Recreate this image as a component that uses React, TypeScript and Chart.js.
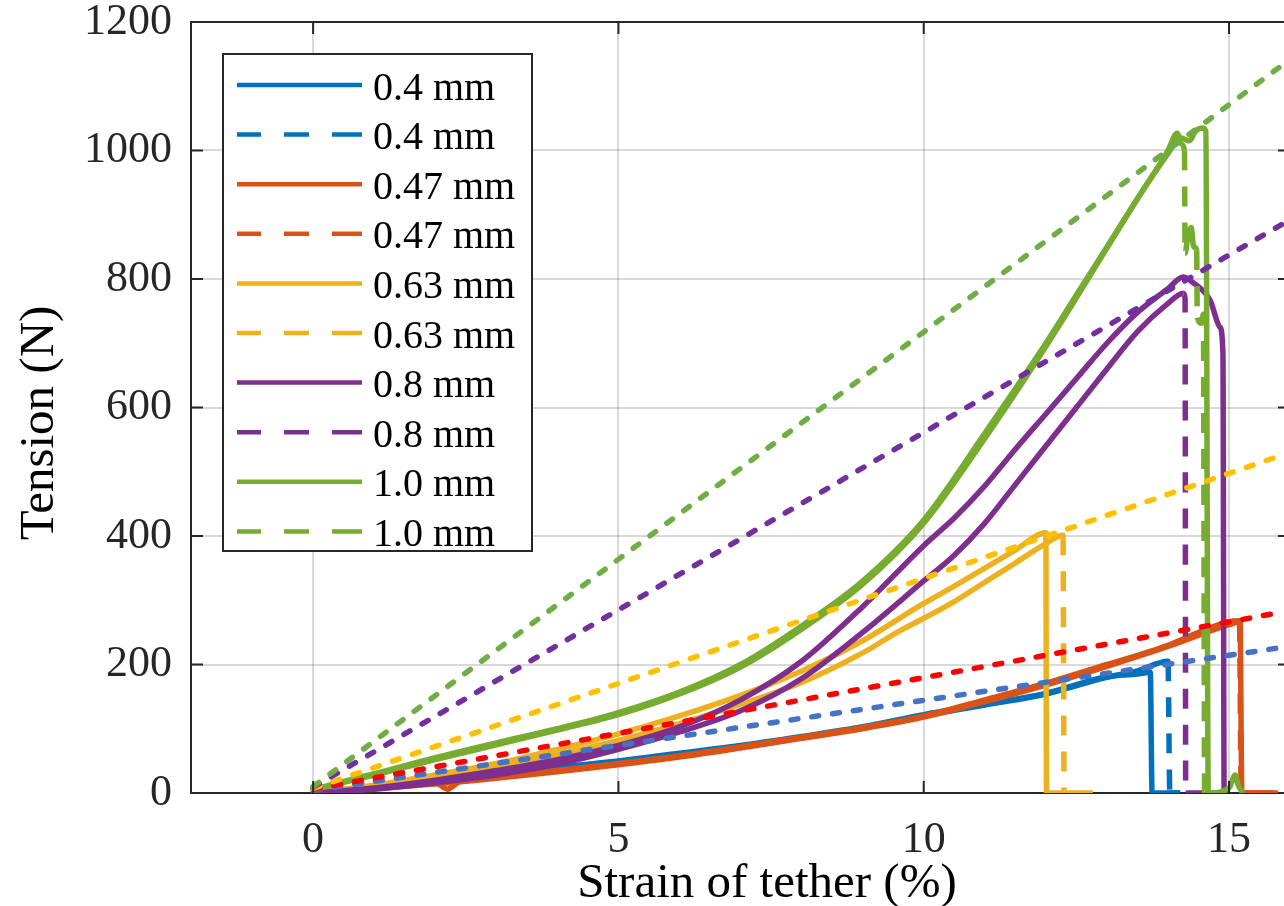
import React, { useEffect, useRef } from "react";
import { Chart, registerables } from "chart.js";

Chart.register(...registerables);

type Pt = [number, number];

// ---------- tick values ----------
const xTickValues = [0, 5, 10, 15];
const yTickValues = [0, 200, 400, 600, 800, 1000, 1200];

// ---------- measured series (strain %, tension N) ----------
const t04Solid: Pt[] = [
  [0, 0], [1, 10], [2, 20], [3, 30], [4, 40], [5, 50], [6, 62], [7, 74], [8, 88], [9, 103],
  [10, 122], [11, 138], [12, 155], [13, 181], [13.5, 185], [13.71, 188], [13.74, 0], [14.2, 0],
];
const t04Dashed: Pt[] = [
  [0, 0], [1, 9], [2, 19], [3, 29], [4, 39], [5, 49], [6, 60], [7, 72], [8, 86], [9, 101],
  [10, 120], [11, 137], [12, 154], [13, 180], [13.5, 190], [14.0, 205], [14.03, 0], [14.2, 0],
];
const t047Solid: Pt[] = [
  [0, 0], [0.5, 4], [1, 8], [1.5, 12], [2, 16], [2.2, 6], [2.4, 18], [3, 25], [4, 35], [5, 46],
  [6, 58], [7, 72], [8, 87], [9, 102], [10, 120], [11, 145], [12, 171], [13, 200], [14, 230],
  [14.55, 252], [14.97, 266], [15.18, 268], [15.21, 0], [15.72, 0],
];
const t047Dashed: Pt[] = [
  [0, 0], [1, 7], [2, 14], [3, 23], [4, 33], [5, 44], [6, 56], [7, 70], [8, 85], [9, 100],
  [10, 118], [11, 142], [12, 168], [13, 197], [14, 228], [15, 262], [15.17, 266], [15.2, 0], [15.8, 0],
];
const t063Solid: Pt[] = [
  [0, 0], [1, 12], [2, 28], [3, 46], [4, 68], [5, 92], [6, 120], [7, 152], [8, 190], [9, 237],
  [10, 295], [10.5, 322], [11, 350], [11.5, 378], [12.0, 405], [12.01, 0], [12.3, 0],
];
const t063Dashed: Pt[] = [
  [0, 0], [1, 10], [2, 24], [3, 40], [4, 60], [5, 82], [6, 108], [7, 138], [8, 172], [9, 218],
  [9.6, 252], [10, 272], [10.5, 298], [11, 328], [11.5, 358], [12, 388], [12.28, 401], [12.3, 0], [12.77, 0],
];
const t08Solid: Pt[] = [
  [0, 0], [1, 8], [2, 20], [3, 35], [4, 52], [5, 74], [6, 103], [7, 145], [8, 205], [9, 290],
  [10, 385], [10.5, 428], [11, 478], [11.5, 535], [12, 590], [12.5, 645], [13, 700], [13.5, 748],
  [14, 785], [14.25, 803], [14.4, 795], [14.69, 767], [14.85, 725], [14.9, 685], [14.92, 0], [15.0, 0],
];
const t08Dashed: Pt[] = [
  [0, 0], [1, 6], [2, 16], [3, 28], [4, 45], [5, 68], [6, 95], [7, 128], [8, 178], [9, 250],
  [10, 330], [10.5, 370], [11, 420], [11.5, 480], [12, 540], [12.5, 600], [13, 660], [13.5, 718],
  [14, 762], [14.25, 778], [14.28, 770], [14.29, 0], [14.57, 0],
];
const t10Solid: Pt[] = [
  [0, 5], [0.5, 18], [1, 30], [2, 55], [3, 78], [4, 100], [5, 125], [6, 157], [7, 200], [8, 260],
  [9, 330], [10, 425], [11, 560], [12, 700], [12.5, 775], [13, 850], [13.5, 925], [14, 995],
  [14.2, 1020], [14.35, 1015], [14.45, 1030], [14.57, 1035], [14.62, 1030], [14.66, 0],
  [15.0, 8], [15.1, 28], [15.15, 12], [15.23, 0],
];
const t10Dashed: Pt[] = [
  [0, 5], [1, 28], [2, 52], [3, 75], [4, 98], [5, 122], [6, 154], [7, 196], [8, 255], [9, 325],
  [10, 420], [11, 552], [12, 695], [13, 848], [13.5, 925], [14, 1000], [14.15, 1027], [14.22, 1010],
  [14.27, 1000], [14.28, 840], [14.33, 870], [14.38, 880], [14.42, 850], [14.47, 845], [14.48, 740],
  [14.55, 731], [14.58, 745], [14.6, 0], [14.95, 0],
];

// ---------- linear fits (dotted) ----------
const fit10: Pt[] = [[0, 10], [15.9, 1135]];
const fit08: Pt[] = [[0, 9], [15.9, 887]];
const fit063: Pt[] = [[0, 7], [15.9, 527]];
const fit047: Pt[] = [[0, 6], [15.9, 282]];
const fit04: Pt[] = [[0, 4], [15.9, 227]];

const legendLabels = [
  "0.4 mm", "0.4 mm", "0.47 mm", "0.47 mm", "0.63 mm", "0.63 mm", "0.8 mm", "0.8 mm", "1.0 mm", "1.0 mm",
];

const C04 = "#0072BD";
const C047 = "#D95319";
const C063 = "#EDB120";
const C08 = "#7E2F8E";
const C10 = "#77AC30";

const FONT = '"Liberation Serif", "Times New Roman", serif';
const AXIS = "#262626";

const toXY = (pts: Pt[]) => pts.map(([x, y]) => ({ x, y }));

const measured = [
  { data: t04Solid, color: C04, dashed: false },
  { data: t04Dashed, color: C04, dashed: true },
  { data: t047Solid, color: C047, dashed: false },
  { data: t047Dashed, color: C047, dashed: true },
  { data: t063Solid, color: C063, dashed: false },
  { data: t063Dashed, color: C063, dashed: true },
  { data: t08Solid, color: C08, dashed: false },
  { data: t08Dashed, color: C08, dashed: true },
  { data: t10Solid, color: C10, dashed: false },
  { data: t10Dashed, color: C10, dashed: true },
];

const fits = [
  { data: fit04, color: "#4472C4" },
  { data: fit047, color: "#FF0000" },
  { data: fit063, color: "#FFC000" },
  { data: fit08, color: "#7030A0" },
  { data: fit10, color: "#70AD47" },
];

const framePlugin = {
  id: "frameAndLegend",
  afterDraw(chart: any) {
    const { ctx, chartArea, scales } = chart;
    const { left, right, top, bottom } = chartArea;
    const xs = scales.x;
    const ys = scales.y;
    ctx.save();
    // top border
    ctx.strokeStyle = AXIS;
    ctx.lineWidth = 2;
    ctx.setLineDash([]);
    ctx.beginPath();
    ctx.moveTo(left, top);
    ctx.lineTo(right, top);
    ctx.stroke();
    // inward ticks
    ctx.beginPath();
    for (const v of xTickValues) {
      const px = xs.getPixelForValue(v);
      ctx.moveTo(px, bottom);
      ctx.lineTo(px, bottom - 12);
      ctx.moveTo(px, top);
      ctx.lineTo(px, top + 12);
    }
    for (const v of yTickValues) {
      const py = ys.getPixelForValue(v);
      ctx.moveTo(left, py);
      ctx.lineTo(left + 12, py);
      ctx.moveTo(right - 6, py);
      ctx.lineTo(right, py);
    }
    ctx.stroke();

    // legend
    const bx = 223, by = 54, bw = 309, bh = 497;
    ctx.fillStyle = "#ffffff";
    ctx.fillRect(bx, by, bw, bh);
    ctx.strokeStyle = AXIS;
    ctx.lineWidth = 2;
    ctx.strokeRect(bx, by, bw, bh);
    ctx.font = `40px ${FONT}`;
    ctx.textBaseline = "middle";
    ctx.textAlign = "left";
    measured.forEach((m, i) => {
      const ly = 85 + i * 49.6;
      ctx.strokeStyle = m.color;
      ctx.lineWidth = 4.5;
      ctx.lineCap = "butt";
      ctx.beginPath();
      if (m.dashed) {
        const segs = [[0, 24], [47, 72], [95, 125]];
        for (const [a, b] of segs) {
          ctx.moveTo(237 + a, ly);
          ctx.lineTo(237 + b, ly);
        }
      } else {
        ctx.moveTo(237, ly);
        ctx.lineTo(362, ly);
      }
      ctx.stroke();
      ctx.fillStyle = "#000000";
      ctx.fillText(legendLabels[i], 373, ly + 4);
    });

    // axis titles
    ctx.fillStyle = "#000000";
    ctx.font = `49px ${FONT}`;
    ctx.textAlign = "center";
    ctx.textBaseline = "alphabetic";
    ctx.fillText("Strain of tether (%)", 767, 897);
    ctx.translate(53, 423);
    ctx.rotate(-Math.PI / 2);
    ctx.fillText("Tension (N)", 0, 0);
    ctx.restore();
  },
};

export default function App() {
  const ref = useRef<HTMLCanvasElement | null>(null);

  useEffect(() => {
    document.body.style.margin = "0";
    const canvas = ref.current;
    if (!canvas) return;

    const datasets: any[] = [];
    measured.forEach((m, i) => {
      datasets.push({
        label: legendLabels[i],
        data: toXY(m.data),
        borderColor: m.color,
        backgroundColor: m.color,
        borderWidth: 5.5,
        pointRadius: 0,
        cubicInterpolationMode: "monotone",
        fill: false,
        borderJoinStyle: "round",
        order: 100 - i,
        segment: m.dashed
          ? {
              borderDash: (c: any) =>
                Math.abs(c.p1.parsed.x - c.p0.parsed.x) < 0.03 ? [20, 16] : undefined,
            }
          : undefined,
      });
    });
    fits.forEach((f, j) => {
      datasets.push({
        label: "fit",
        data: toXY(f.data),
        borderColor: f.color,
        backgroundColor: f.color,
        borderWidth: 5.5,
        borderDash: [7, 14],
        borderCapStyle: "round",
        pointRadius: 0,
        fill: false,
        order: 10 - j,
      });
    });

    const chart = new Chart(canvas, {
      type: "line",
      data: { datasets },
      options: {
        animation: false,
        responsive: false,
        devicePixelRatio: 1,
        layout: { padding: { top: 22, right: 0, left: 0, bottom: 0 } },
        plugins: { legend: { display: false }, tooltip: { enabled: false } },
        scales: {
          x: {
            type: "linear",
            min: -2,
            max: 15.9,
            afterBuildTicks: (s: any) => {
              s.ticks = xTickValues.map((v) => ({ value: v }));
            },
            afterFit: (s: any) => {
              s.height = 113;
              s.paddingLeft = 0;
              s.paddingRight = 0;
            },
            grid: { color: "rgba(0,0,0,0.15)", lineWidth: 2, drawTicks: false },
            border: { display: true, color: AXIS, width: 2 },
            ticks: {
              padding: 25,
              color: AXIS,
              font: { family: FONT, size: 44, lineHeight: 1 },
              maxRotation: 0,
              callback: (v: any) => String(v),
            },
          },
          y: {
            type: "linear",
            min: 0,
            max: 1200,
            afterBuildTicks: (s: any) => {
              s.ticks = yTickValues.map((v) => ({ value: v }));
            },
            afterFit: (s: any) => {
              s.width = 191;
              s.paddingTop = 0;
              s.paddingBottom = 0;
            },
            grid: { color: "rgba(0,0,0,0.15)", lineWidth: 2, drawTicks: false },
            border: { display: true, color: AXIS, width: 2 },
            ticks: {
              padding: 19,
              color: AXIS,
              font: { family: FONT, size: 44, lineHeight: 1 },
              callback: (v: any) => String(v),
            },
          },
        },
      },
      plugins: [framePlugin],
    });
    return () => chart.destroy();
  }, []);

  return (
    <div style={{ position: "fixed", left: 0, top: 0, width: 1284, height: 906, background: "#fff" }}>
      <canvas ref={ref} width={1284} height={906} style={{ width: 1284, height: 906, display: "block" }} />
    </div>
  );
}
